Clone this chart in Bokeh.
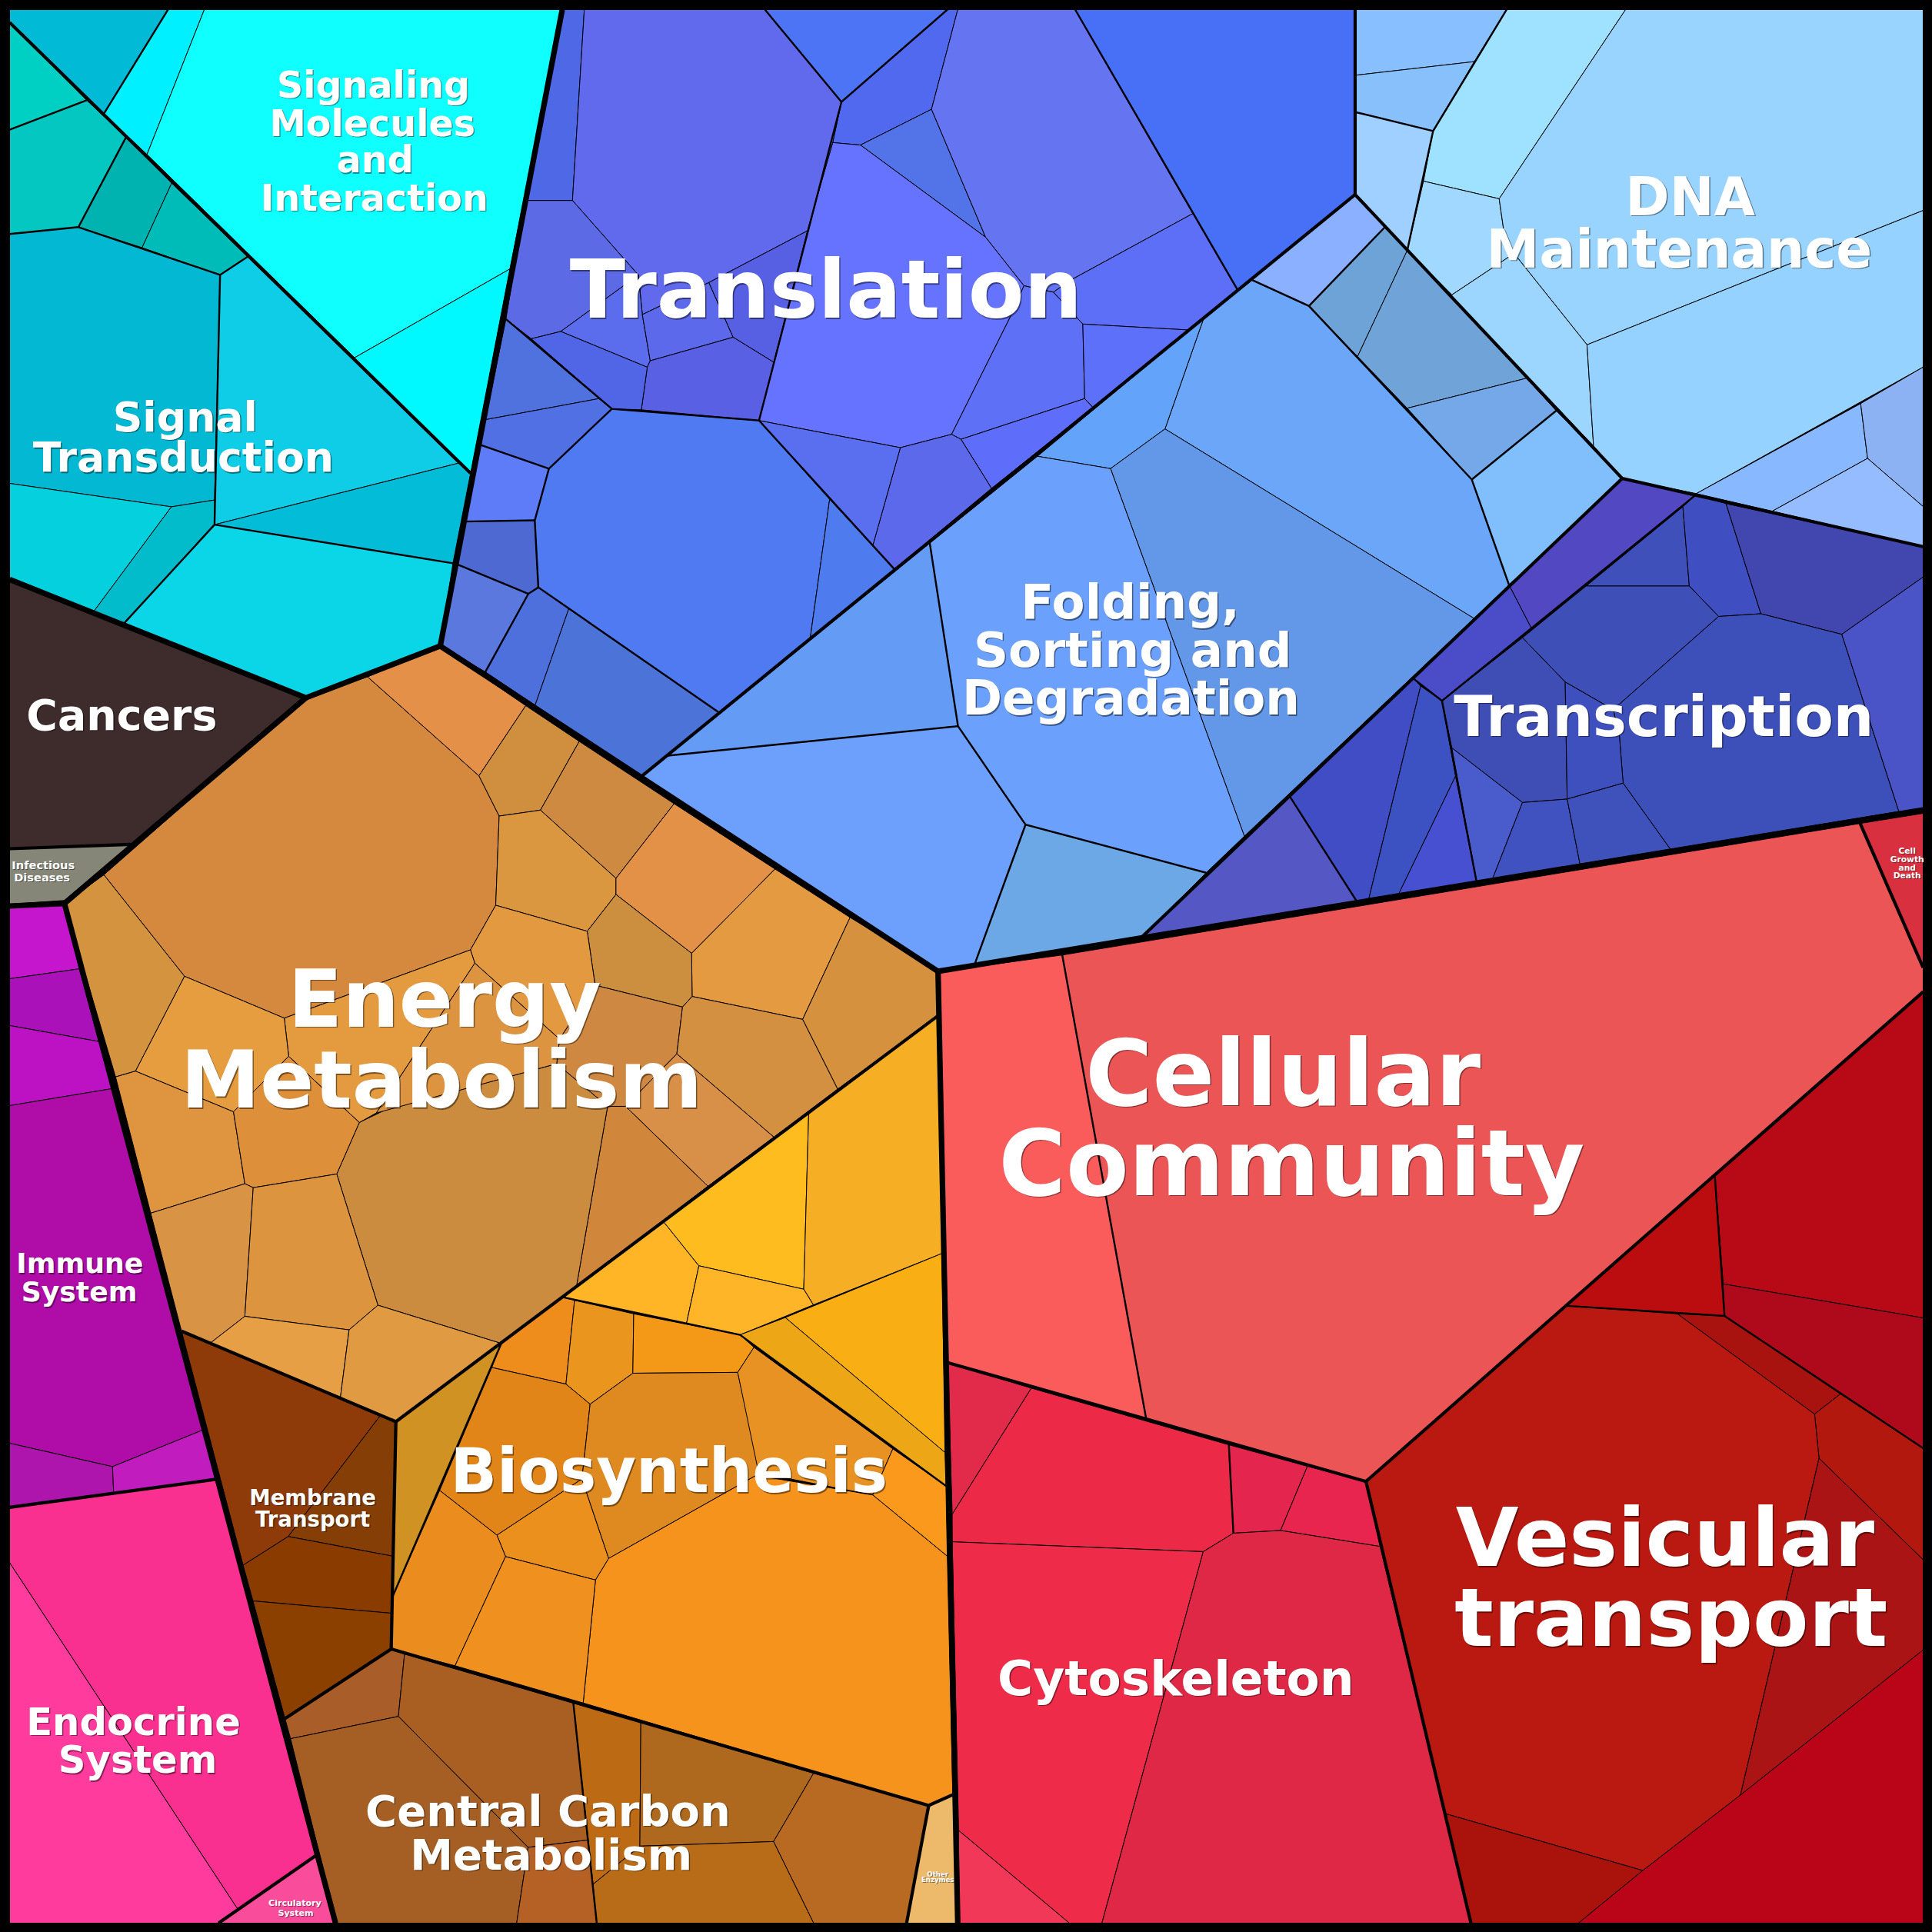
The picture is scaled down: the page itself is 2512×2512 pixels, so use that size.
from bokeh.plotting import figure
from bokeh.models import Range1d, ColumnDataSource
from bokeh.core.properties import value
from bokeh.embed import file_html
from bokeh.resources import INLINE

# Cell outlines, in units of a 1568 square
SIGNALING = [
    [(7.5,7.5),(136,7.5),(84,92),(7.5,18)],
    [(136,7.5),(165.5,7.5),(119,125),(84,92)],
    [(165.5,7.5),(456,7.5),(413.5,218),(287.5,290),(119,125)],
    [(413.5,218),(381.6,383.7),(287.5,290)],
]
SIGNALING_C = ["#00BAD6","#00F0FF","#0FFFFF","#00F8FF"]
TRANSDUCTION = [
    [(7.5,18),(70,81),(7.5,105)],
    [(7.5,105),(70,81),(102,111),(63.3,184),(7.5,189.6)],
    [(102,111),(139,148.4),(115,200.7),(63.3,184)],
    [(139,148.4),(200.7,208),(178.3,222.8),(115,200.7)],
    [(7.5,189.6),(63.3,184),(178.3,222.8),(173.8,405.5),(138.8,411),(7.5,392)],
    [(178.3,222.8),(200.7,208),(371.7,375.6),(173.8,425.5)],
    [(371.7,375.6),(381.6,383.7),(367.3,456.8),(173.8,425.5)],
    [(7.5,392),(138.8,411),(75,497),(7.5,470)],
    [(138.8,411),(173.8,405.5),(173.8,425.5),(100,506),(75,497)],
    [(173.8,425.5),(367.3,456.8),(357,524),(248,566),(100,506)],
]
TRANSDUCTION_C = ["#00CFC4","#04C7C1","#00B3B0","#00BCB8","#02B8D2","#0FCDE6","#03BCD8","#04D0DE","#02BBCB","#0AD6E8"]
DISEASE = [
    [(7.5,470),(248,566),(106,685),(7.5,688.5)],
    [(7.5,688.5),(106,685),(52,730.5),(7.5,733.5)],
]
DISEASE_C = ["#3E2C2C","#868678"]
IMMUNE = [
    [(7.5,735),(52,733),(64,786),(7.5,794)],
    [(7.5,794),(64,786),(80,845),(7.5,832)],
    [(7.5,832),(80,845),(92,883),(7.5,897)],
    [(7.5,897),(92,883),(165,1160),(91,1190),(7.5,1171)],
    [(7.5,1171),(91,1190),(92,1212),(7.5,1223)],
    [(91,1190),(165,1160),(177,1200),(92,1212)],
]
IMMUNE_C = ["#C515CD","#AB11B8","#BC12C4","#B00CA8","#AE15AD","#C01CBE"]
ENDOCRINE = [
    [(7.5,1223),(177,1200),(257,1505),(192.5,1549),(7.5,1268)],
    [(7.5,1268),(192.5,1549),(177,1560.5),(7.5,1560.5)],
    [(257,1505),(272,1560.5),(177,1560.5)],
]
ENDOCRINE_C = ["#FA3090","#FF3B9D","#F94C9B"]
MEMBRANE = [
    [(147,1080),(308,1149),(233.6,1246.7),(197,1270)],
    [(308,1149),(321,1153.5),(318.5,1262.7),(233.6,1246.7)],
    [(197,1270),(233.6,1246.7),(318.5,1262.7),(317.5,1309),(205,1299)],
    [(205,1299),(317.5,1309),(317.2,1338),(231,1394.5)],
]
MEMBRANE_C = ["#8E3A09","#843E06","#8A3B00","#8B4000"]
CARBON = [
    [(231,1394.5),(317.2,1338),(328,1342),(323,1392.7),(235.5,1410.8)],
    [(328,1342),(465,1381.8),(477,1493),(428.3,1499),(323,1392.7)],
    [(235.5,1410.8),(323,1392.7),(428.3,1499),(419,1560.5),(273,1560.5)],
    [(428.3,1499),(477,1493),(484,1560.5),(419,1560.5)],
    [(465,1381.8),(519.8,1397.4),(519,1498),(481,1529)],
    [(519.8,1397.4),(660,1438.8),(627.5,1494.3),(519,1498)],
    [(660,1438.8),(753.4,1465),(735,1560.5),(660,1560.5),(627.5,1494.3)],
    [(519,1498),(627.5,1494.3),(660,1560.5),(484,1560.5),(481,1529)],
]
CARBON_C = ["#A95D28","#AA5F22","#A55F24","#B56126","#BC6A14","#AF691E","#B86A22","#B96C18"]
ENZYMES = [[(753.4,1465),(773.5,1456),(776,1560.5),(735.5,1560.5)]]
ENZYMES_C = ["#EDB96B"]
BIOSYNTHESIS = [
    [(406.4,1090.3),(320.6,1153.8),(318.7,1294.6)],
    [(406.4,1090.3),(456.6,1052.5),(466,1055),(459,1123),(398.8,1109.5)],
    [(466,1055),(514,1066),(513.3,1114.2),(478.6,1139.3),(459,1123)],
    [(514,1066),(600.3,1083),(611.6,1093.2),(598.4,1113.5),(513.3,1114.2)],
    [(398.8,1109.5),(459,1123),(478.6,1139.3),(472,1200),(403,1245.6),(356.5,1209.3)],
    [(403,1245.6),(472,1200),(493.7,1264.5),(483,1282),(410,1263)],
    [(478.6,1139.3),(513.3,1114.2),(598.4,1113.5),(615.4,1190),(613.5,1197),(493.7,1264.5),(472,1200)],
    [(611.6,1093.2),(724.3,1175.6),(708,1213),(615.4,1195),(598.4,1113.5)],
    [(724.3,1175.6),(767.4,1205.7),(768.5,1262.7),(708,1213)],
    [(493.7,1264.5),(613.5,1197),(708,1213),(768.5,1262.7),(773,1455.5),(753.4,1465),(473,1381.8),(483,1282)],
    [(356.5,1209.3),(403,1245.6),(410,1263),(369,1351.6),(317.2,1338),(318.7,1294.6)],
    [(410,1263),(483,1282),(473,1381.8),(369,1351.6)],
]
BIOSYNTHESIS_C = ["#D19224","#EE8D1C","#EA951E","#F49818","#E28518","#EB8F1D","#DF8A20","#E99224","#FB991C","#F6931C","#EA8C1E","#F0901E"]
GOLD = [
    [(538.5,991.5),(566.9,1027),(556.8,1074),(456.6,1052.5)],
    [(538.5,991.5),(656,903.5),(652,1046),(566.9,1027)],
    [(656,903.5),(760.6,824.3),(764.2,1017),(659.8,1058.7),(652,1046)],
    [(566.9,1027),(652,1046),(659.8,1058.7),(600.3,1083),(556.8,1074)],
    [(637,1069),(764.2,1017),(766.6,1178.5)],
    [(600.3,1083),(637,1069),(766.6,1178.5),(767.4,1205.7)],
]
GOLD_C = ["#FFB525","#FFBC1F","#F6AF25","#FFB527","#F9AF14","#EDA716"]
ENERGY = [
    [(248,566),(298,549),(388.4,629.3),(404.8,662),(402,734.4),(381.5,770.6),(230.4,826),(149.4,792),(84,709.7)],
    [(298,549),(356,524),(426.4,572.4),(388.4,629.3)],
    [(388.4,629.3),(426.4,572.4),(469.8,601.4),(438.3,657.2),(404.8,662)],
    [(469.8,601.4),(546.8,652),(499.6,712.5),(438.3,657.2)],
    [(404.8,662),(438.3,657.2),(499.6,712.5),(499.6,725.6),(476.3,755.5),(402,734.4)],
    [(546.8,652),(628.7,705),(561,773.4),(499.6,725.6),(499.6,712.5)],
    [(628.7,705),(689.6,744.3),(651.1,827),(561.4,808.4),(561,773.4)],
    [(689.6,744.3),(760.6,787),(760.6,824.3),(679.5,883.6),(651.1,827)],
    [(499.6,725.6),(561,773.4),(561.4,808.4),(553.6,817),(482.7,799.3),(476.3,755.5)],
    [(381.5,770.6),(402,734.4),(476.3,755.5),(482.7,799.3),(453.8,843),(385,781.3)],
    [(482.7,799.3),(553.6,817),(549,855),(507.4,897.6),(492.8,897.6),(451.5,863),(453.8,843)],
    [(553.6,817),(561.4,808.4),(651.1,827),(679.5,883.6),(627.8,922.6),(549,855)],
    [(549,855),(627.8,922.6),(574.2,962.4),(507.4,897.6)],
    [(507.4,897.6),(574.2,962.4),(467.5,1044),(492.8,897.6)],
    [(273,952.5),(291.3,910.7),(312,900.7),(451.5,863),(492.8,897.6),(467.5,1044),(405.8,1089.8),(306.4,1059)],
    [(385,781.3),(453.8,843),(451.5,863),(305,903)],
    [(230.4,826),(381.5,770.6),(385,781.3),(305,903),(291.3,910.7),(234,857)],
    [(149.4,792),(230.4,826),(234,857),(189.2,902),(109.6,869)],
    [(84,709.7),(149.4,792),(109.6,869),(93.5,873.7),(52,733)],
    [(93.5,873.7),(109.6,869),(189.2,902),(198.4,960.4),(122,984.3)],
    [(189.2,902),(234,857),(291.3,910.7),(273,952.5),(205.2,963.6),(198.4,960.4)],
    [(122,984.3),(198.4,960.4),(205.2,963.6),(198.4,1068),(170,1090),(147,1080)],
    [(205.2,963.6),(273,952.5),(306.4,1059),(283,1079),(198.4,1068)],
    [(170,1090),(198.4,1068),(283,1079),(276,1133.6)],
    [(283,1079),(306.4,1059),(405.8,1089.8),(321,1153.5),(276,1133.6)],
]
ENERGY_C = ["#D4893F","#E49048","#CF8F3F","#CE8A40","#DA9740","#E49148","#E49A40","#D6913F","#CC8F40","#E39940",
            "#CF8842","#D39040","#D88F48","#D0873C","#CC8C3F","#DC9440","#E49B40","#E59D40","#D3933F","#DF9540",
            "#DD8F3A","#D89444","#DC953E","#E69F44","#DF9A42"]
TRANSLATION = [
    [(620.5,7.5),(768.6,7.5),(682.6,82.4)],
    [(768.6,7.5),(777,7.5),(755.7,88.4),(698,117.4),(675.5,115.4),(682.6,82.4)],
    [(755.7,88.4),(799.6,192.2),(698,117.4)],
    [(777,7.5),(872.3,7.5),(967.8,173),(868.9,226.9),(854.6,236.8),(830.7,231.6),(799.6,192.2),(755.7,88.4)],
    [(872.3,7.5),(1099.5,7.5),(1099.5,157.6),(1004,234.8),(967.8,173)],
    [(675.5,115.4),(698,117.4),(799.6,192.2),(830.7,231.6),(819.7,256.7),(772,352.2),(730.4,363),(615.7,341),(655,187)],
    [(967.8,173),(1004,234.8),(964.5,267.5),(878.5,262.7),(854.6,236.8),(868.9,226.9)],
    [(830.7,231.6),(854.6,236.8),(878.5,262.7),(880,323.2),(779.6,356.2),(772,352.2),(819.7,256.7)],
    [(878.5,262.7),(964.5,267.5),(886.6,330.3),(880,323.2)],
    [(880,323.2),(886.6,330.3),(804.4,396),(779.6,356.2)],
    [(730.4,363),(772,352.2),(779.6,356.2),(804.4,396),(725.6,461.7),(708,442.6)],
    [(615.7,341),(730.4,363),(708,442.6)],
    [(496.3,331.5),(615.7,341),(673,405),(657.3,517.4),(583.3,578),(461.4,493.5),(436.6,476.4),(433.7,422),(445.2,380)],
    [(673,405),(725.6,461.7),(657.3,517.4)],
    [(456,7.5),(473.9,7.5),(464.3,162.4),(426,162.4)],
    [(473.9,7.5),(620.5,7.5),(682.6,82.4),(675.5,115.4),(655,187),(575,229),(521,255),(517.8,222.9),(464.3,162.4)],
    [(426,162.4),(464.3,162.4),(517.8,222.9),(454.8,268.7),(430.9,274.6),(410.3,258.7)],
    [(517.8,222.9),(521,255),(527.4,292.5),(525,297.7),(454.8,268.7)],
    [(521,255),(575,229),(594.7,273.4),(527.4,292.5)],
    [(575,229),(655,187),(627.7,293.7),(594.7,273.4)],
    [(527.4,292.5),(594.7,273.4),(627.7,293.7),(615.7,341),(520.2,332.3),(525,297.7)],
    [(430.9,274.6),(454.8,268.7),(525,297.7),(520.2,332.3),(496.3,331.5)],
    [(410.3,258.7),(485.8,323.2),(393.6,340.3)],
    [(393.6,340.3),(485.8,323.2),(496.3,331.5),(445.2,380),(389,360.5)],
    [(389,360.5),(445.2,380),(433.7,422),(376,423)],
    [(376,423),(433.7,422),(436.6,476.4),(428.5,481.6),(369,457)],
    [(369,457),(428.5,481.6),(393.6,545),(357,524)],
    [(393.6,545),(428.5,481.6),(436.6,476.4),(461.4,493.5),(434,572)],
    [(461.4,493.5),(583.3,578),(520,630),(434,572)],
]
TRANSLATION_C = ["#4D74F4","#5169EE","#5373E8","#6575F2","#4870F6","#6573FF","#5D6FF6","#5D70F6","#5D70FA","#5F6EFA",
                 "#5C69EA","#5A6EF0","#507AF2","#4E7CEE","#4E68E6","#616AEC","#5C6AE6","#5B6CEC","#5C69EA","#5760E2",
                 "#5A60E4","#5066E6","#4F72DF","#5070E4","#5F7CF8","#4E69D2","#5A78DE","#4E70DC","#4C74D8"]
FOLDING = [
    [(1016,227),(1062,248),(1194.2,388.9),(1224.4,474.4),(1196,501.6),(945.2,347.8),(976.6,258)],
    [(841.7,370),(976.6,258),(945.2,347.8),(901,380)],
    [(901,380),(945.2,347.8),(1196,501.6),(1009.6,678.3)],
    [(754.3,440.6),(841.7,370),(901,380),(1009.6,678.3),(978.6,708),(832,669),(777.2,589)],
    [(541.7,613),(754.3,440.6),(777.2,589)],
    [(520,630),(541.7,613),(777.2,589),(832,669),(790.8,782),(761,788)],
    [(832,669),(978.6,708),(926.6,760),(790.8,782)],
]
FOLDING_C = ["#6BA6F8","#63A4FA","#6398E8","#6BA1FC","#649BF5","#6CA0FC","#6CA8E6"]
STRIP = [
    [(1099.5,157.6),(1123.7,184),(1062,248),(1016,227)],
    [(1123.7,184),(1141.8,203),(1101.5,289),(1062,248)],
    [(1141.8,203),(1238.5,306.7),(1141.8,331),(1101.5,289)],
    [(1238.5,306.7),(1262.7,333),(1194.2,388.9),(1141.8,331)],
    [(1262.7,333),(1316.3,388),(1224.4,474.4),(1194.2,388.9)],
]
STRIP_C = ["#8AB0FF","#6EA3D8","#70A4D8","#75A8E8","#80BFFC"]
DNA = [
    [(1099.5,7.5),(1222.4,7.5),(1196.2,49.7),(1100.3,60.7)],
    [(1100.3,60.7),(1196.2,49.7),(1162.8,106),(1100.3,90.8)],
    [(1100.3,90.8),(1162.8,106),(1141.8,203),(1099.5,157.6)],
    [(1222.4,7.5),(1319,7.5),(1216.4,161),(1155,146.7),(1162.8,106)],
    [(1155,146.7),(1216.4,161),(1220.4,188.7),(1228.5,205.4),(1178,239),(1141.8,203)],
    [(1319,7.5),(1560.5,7.5),(1560.5,170.5),(1287.7,279.5),(1228.5,205.4),(1220.4,188.7),(1216.4,161)],
    [(1141.8,203),(1178,239),(1228.5,205.4),(1287.7,279.5),(1293,361.6)],
    [(1287.7,279.5),(1560.5,170.5),(1560.5,297.6),(1376.4,400.3),(1316.3,388),(1293,361.6)],
    [(1376.4,400.3),(1509.8,327.2),(1515.4,371.7),(1438,414.6)],
    [(1509.8,327.2),(1560.5,297.6),(1560.5,410.8),(1515.4,371.7)],
    [(1438,414.6),(1515.4,371.7),(1560.5,410.8),(1560.5,443.3)],
]
DNA_C = ["#88C0FF","#88C0FC","#A0D0FF","#9EE2FF","#A0D8FF","#98D4FF","#9CD6FF","#96D2FF","#88B8FF","#8CB2F4","#94BCFF"]
TRANSCRIPTION = [
    [(1316.3,388),(1376.4,401),(1242.6,509.7),(1224.4,474.4)],
    [(1224.4,474.4),(1242.6,509.7),(1170,568.5),(1146.7,550.3)],
    [(1365.5,411),(1370.7,475.3),(1287,475.3)],
    [(1376.4,401),(1400.5,408.4),(1428.8,497.8),(1394.5,500),(1370.7,475.3),(1365.5,411)],
    [(1400.5,408.4),(1560.5,443.3),(1560.5,468),(1494.5,514.5),(1428.8,497.8)],
    [(1287,475.3),(1370.7,475.3),(1394.5,500),(1309,575.6),(1270,553.2),(1235.3,517.3)],
    [(1394.5,500),(1428.8,497.8),(1494.5,514.5),(1540.8,658.3),(1355.4,689),(1317,635.3),(1314,597),(1309,575.6)],
    [(1494.5,514.5),(1560.5,468),(1560.5,657),(1540.8,658.3)],
    [(1235.3,517.3),(1270,553.2),(1271.6,648.2),(1235.3,651),(1178,606.7),(1170,568.5)],
    [(1270,553.2),(1309,575.6),(1314,597),(1317,635.3),(1271.6,648.2)],
    [(1178,606.7),(1235.3,651),(1211,713),(1198,715)],
    [(1235.3,651),(1271.6,648.2),(1282,701),(1211,713)],
    [(1271.6,648.2),(1317,635.3),(1355.4,689),(1282,701)],
    [(1046.3,645.8),(1100.7,731),(926.6,760)],
    [(1046.3,645.8),(1146.7,550.3),(1152.7,556.5),(1110.4,730),(1100.7,731)],
    [(1152.7,556.5),(1170,568.5),(1181,629.6),(1135,725),(1110.4,730)],
    [(1181,629.6),(1198,715),(1135,725)],
]
TRANSCRIPTION_C = ["#5248C2","#4A4CC8","#3F50BA","#3F4EC0","#4147AE","#3E50B8","#3D4FB9","#4B54C6","#3F4EB4","#3D50BE",
                   "#4A5CCC","#3F52C0","#3F52BC","#5558C4","#404DC4","#3C52C2","#4850D2"]
COMMUNITY = [
    [(760.5,788.4),(861.8,774.8),(930,1151.7),(768.8,1105.6)],
    [(861.8,774.8),(1509.4,668),(1560.5,785),(1560.5,804.7),(1108.3,1202),(930,1151.7)],
    [(1509.4,668),(1560.5,659.8),(1560.5,785)],
]
COMMUNITY_C = ["#FA5C5C","#EC5555","#D93040"]
CYTOSKELETON = [
    [(768.8,1105.6),(836.7,1126.3),(772.5,1228.7)],
    [(836.7,1126.3),(997,1172.3),(1000.7,1244),(976.2,1259),(772.5,1251),(772.5,1228.7)],
    [(997,1172.3),(1060.8,1189.7),(1039,1241.8),(1000.7,1244)],
    [(1060.8,1189.7),(1108.3,1202),(1119.8,1254.8),(1039,1241.8)],
    [(772.5,1251),(976.2,1259),(894,1560.5),(867.6,1560.5),(777.7,1485.3)],
    [(976.2,1259),(1000.7,1244),(1039,1241.8),(1119.8,1254.8),(1193.5,1560.5),(894,1560.5)],
    [(777.7,1485.3),(867.6,1560.5),(778,1560.5)],
]
CYTOSKELETON_C = ["#E22A4A","#EC2A48","#E4254E","#E8254E","#EE2B48","#DF2845","#F23858"]
VESICULAR = [
    [(1391.4,953.8),(1560.5,804.7),(1560.5,1069.3),(1398.2,1041.7)],
    [(1391.4,953.8),(1398.2,1041.7),(1399.3,1067.7),(1271.3,1059.5)],
    [(1398.2,1041.7),(1560.5,1069.3),(1560.5,1175),(1399.3,1067.7)],
    [(1361,1066),(1399.3,1067.7),(1493.3,1131),(1472.4,1147.4)],
    [(1493.3,1131),(1560.5,1175),(1560.5,1265.6),(1476,1183.2),(1472.4,1147.4)],
    [(1108.3,1202),(1271.3,1059.5),(1361,1066),(1472.4,1147.4),(1476,1183.2),(1412.3,1456.5),(1333,1517.8),(1173,1471.7)],
    [(1476,1183.2),(1560.5,1265.6),(1560.5,1338.8),(1412.3,1456.5)],
    [(1173,1471.7),(1333,1517.8),(1280.7,1560.5),(1193.5,1560.5)],
    [(1412.3,1456.5),(1560.5,1338.8),(1560.5,1560.5),(1280.7,1560.5),(1333,1517.8)],
]
VESICULAR_C = ["#B80A16","#BB0C0F","#AF0A1C","#A9130F","#B3180F","#B91910","#AB1414","#AA120C","#BA0417"]

# Heavier boundaries between groups
HEAVY_LINES = [
    [(456,7.5),(357,524),(248,566),(7.5,470)],
    [(248,566),(52,733),(7.5,735)],
    [(52,733),(272,1560.5)],
    [(357,524),(761,788),(777,1560.5)],
    [(761,788),(1560.5,657)],
]
MAIN_LINES = [
    [(7.5,18),(381.6,383.7)],
    [(7.5,688.5),(106,685)],
    [(7.5,1223),(177,1200)],
    [(257,1505),(177,1560.5)],
    [(147,1080),(321,1153.5),(317.2,1338),(231,1394.5)],
    [(317.2,1338),(753.4,1465),(773.5,1456)],
    [(753.4,1465),(735.5,1560.5)],
    [(321,1153.5),(760.6,824.3)],
    [(520,630),(1099.5,157.6),(1099.5,7.5)],
    [(1099.5,157.6),(1316.3,388),(1560.5,443.3)],
    [(1316.3,388),(926.6,760)],
    [(768.8,1105.6),(1108.3,1202),(1560.5,804.7)],
    [(1108.3,1202),(1193.5,1560.5)],
    [(1509.4,668),(1560.5,785)],
]
SUB_LINES = [
    [(136,7.5),(84,92)],
    [(7.5,105),(70,81)],
    [(102,111),(63.3,184),(7.5,189.6)],
    [(63.3,184),(178.3,222.8),(200.7,208)],
    [(178.3,222.8),(173.8,425.5),(100,506)],
    [(173.8,425.5),(367.3,456.8)],
    [(406.4,1090.3),(318.7,1294.6)],
    [(456.6,1052.5),(600.3,1083),(767.4,1205.7)],
    [(465,1381.8),(484,1560.5)],
    [(620.5,7.5),(682.6,82.4),(768.6,7.5)],
    [(682.6,82.4),(615.7,341),(496.3,331.5),(410.3,258.7)],
    [(496.3,331.5),(445.2,380),(433.7,422),(436.6,476.4),(583.3,578)],
    [(615.7,341),(725.6,461.7)],
    [(872.3,7.5),(1004,234.8)],
    [(389,360.5),(445.2,380)],
    [(433.7,422),(376,423)],
    [(436.6,476.4),(428.5,481.6),(393.6,545)],
    [(369,457),(428.5,481.6)],
    [(1016,227),(1062,248),(1194.2,388.9),(1224.4,474.4)],
    [(1123.7,184),(1062,248)],
    [(1262.7,333),(1194.2,388.9)],
    [(754.3,440.6),(777.2,589),(541.7,613)],
    [(777.2,589),(832,669),(978.6,708)],
    [(832,669),(790.8,782)],
    [(1222.4,7.5),(1162.8,106),(1141.8,203)],
    [(1100.3,90.8),(1162.8,106)],
    [(1376.4,401),(1170,568.5),(1146.7,550.3)],
    [(1170,568.5),(1198,715)],
    [(1046.3,645.8),(1100.7,731)],
    [(861.8,774.8),(930,1151.7)],
    [(1391.4,953.8),(1399.3,1067.7),(1271.3,1059.5)],
    [(1399.3,1067.7),(1560.5,1175)],
    [(997,1172.3),(1000.7,1244)],
]

# Labels, one entry per line
LABELS = ["Signaling","Molecules","and","Interaction","Signal","Transduction","Cancers","Infectious","Diseases",
          "Immune","System","Endocrine","System","Circulatory","System","Membrane","Transport",
          "Energy","Metabolism","Biosynthesis","Central Carbon","Metabolism","Other","Enzymes",
          "Translation","Folding,","Sorting and","Degradation","DNA","Maintenance","Transcription",
          "Cellular","Community","Cytoskeleton","Vesicular","transport","Cell","Growth","and","Death"]
LABEL_X = [302.6,301.8,304,303.4,150,148.5,98.5,34.8,33.8,64.5,64,108,111.5,239,239.7,253.5,253.5,
           360.5,358,542.6,444.4,447,760.7,760.7,670,917,919,917.5,1371.5,1362.6,1350,
           1041,1048,954,1351,1356,1547.5,1547.5,1547.5,1547.5]
LABEL_Y = [79,110,139.7,170.8,350,382.8,592,704.8,714.8,1033,1056,1408,1439,1546.9,1554.7,1221,1238.4,
           833,898.8,1211,1481.6,1517,1522.5,1527.3,258,502,541,580,174.4,217,597,
           896.9,970,1375.7,1271,1336,692.9,699.7,706.4,712.9]
LABEL_PX = [47.6,47.6,47.6,47.6,53.7,53.7,55.4,14.6,14.6,36.2,36.2,49.6,49.6,11.1,11.1,27.5,27.5,
            103.5,103.5,79.5,56,56,8.6,8.6,106,62.7,62.7,62.7,69.2,69.2,73.7,
            119,119,63,105.7,105.7,10.7,10.7,10.7,10.7]

SIZE = 2512
p = figure(width=SIZE, height=SIZE, x_range=Range1d(0, 1568), y_range=Range1d(1568, 0),
           output_backend="svg", toolbar_location=None, min_border=0,
           background_fill_color="black", border_fill_color="black", outline_line_color=None)
p.xaxis.visible = False
p.yaxis.visible = False
p.grid.visible = False

groups = [(SIGNALING,SIGNALING_C),(TRANSDUCTION,TRANSDUCTION_C),(DISEASE,DISEASE_C),(IMMUNE,IMMUNE_C),
          (ENDOCRINE,ENDOCRINE_C),(MEMBRANE,MEMBRANE_C),(CARBON,CARBON_C),(ENZYMES,ENZYMES_C),
          (BIOSYNTHESIS,BIOSYNTHESIS_C),(GOLD,GOLD_C),(ENERGY,ENERGY_C),(TRANSLATION,TRANSLATION_C),
          (FOLDING,FOLDING_C),(STRIP,STRIP_C),(DNA,DNA_C),(TRANSCRIPTION,TRANSCRIPTION_C),
          (COMMUNITY,COMMUNITY_C),(CYTOSKELETON,CYTOSKELETON_C),(VESICULAR,VESICULAR_C)]
xs, ys, cs = [], [], []
for cells, colors in groups:
    for cell, color in zip(cells, colors):
        xs.append([v[0] for v in cell]); ys.append([v[1] for v in cell]); cs.append(color)
p.patches(xs=xs, ys=ys, fill_color=cs, line_color="black", line_width=1.0, line_join="miter")

for lines, width in ((SUB_LINES, 2.4), (MAIN_LINES, 4.2), (HEAVY_LINES, 7.2)):
    p.multi_line(xs=[[v[0] for v in l] for l in lines], ys=[[v[1] for v in l] for l in lines],
                 line_color="black", line_width=width, line_join="miter", line_cap="butt")

# Bokeh drops an alphabetic baseline by about 0.35 em; these offsets bring it back onto LABEL_Y
src = ColumnDataSource(dict(text=LABELS, x=LABEL_X, y=LABEL_Y, size=[f"{s}px" for s in LABEL_PX],
                            lift=[-0.35 * s for s in LABEL_PX],
                            sx=[1 if s < 20 else 1.5 for s in LABEL_PX],
                            sy=[-0.35 * s + (1 if s < 20 else 1.5) for s in LABEL_PX]))
p.text(x="x", y="y", text="text", source=src, text_font=value("DejaVu Sans"), text_font_style="bold",
       text_font_size="size", text_align="center", text_baseline="alphabetic", text_color="black",
       text_alpha=0.45, x_offset="sx", y_offset="sy")
p.text(x="x", y="y", text="text", source=src, text_font=value("DejaVu Sans"), text_font_style="bold",
       text_font_size="size", text_align="center", text_baseline="alphabetic", text_color="white",
       y_offset="lift")

html = file_html(p, INLINE).replace("<head>", "<head><style>html,body{margin:0;background:#000;overflow:hidden}</style>", 1)
open("out.html", "w").write(html)
